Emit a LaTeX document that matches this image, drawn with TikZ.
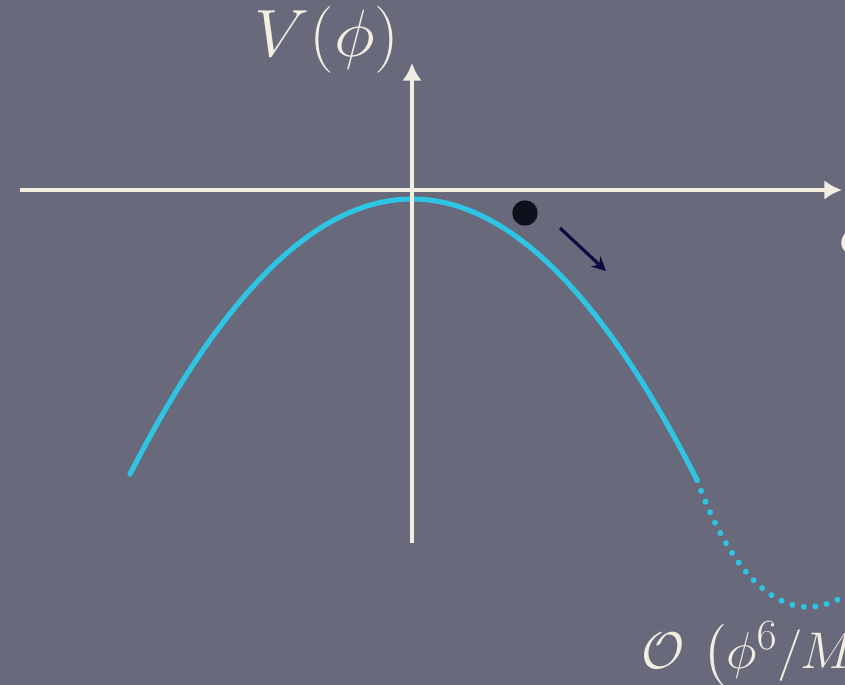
\documentclass[tikz,border=0pt]{standalone}
\usepackage{amsmath}
\usepackage{tikz}
\usetikzlibrary{arrows.meta,positioning,calc}
\definecolor{board}{RGB}{104,106,124}
\definecolor{chalk}{RGB}{242,238,226}
\definecolor{curvecyan}{RGB}{46,196,228}
\definecolor{ballnavy}{RGB}{14,16,28}

\begin{document}
\begin{tikzpicture}[
    x=0.02cm, y=-0.02cm,
    axis/.style={draw=chalk, line width=2.3pt, -{Latex[length=10pt,width=11pt]}},
    potential/.style={draw=curvecyan, line width=2.9pt, line cap=round},
    correction/.style={draw=curvecyan, line width=3.4pt, line cap=round, dash pattern=on 0pt off 6.6pt},
    label/.style={text=chalk, inner sep=0pt, font=\fontsize{24.88}{26}\selectfont, transform shape},
    biglabel/.style={label, xscale=1.6, yscale=1.53},
    ball/.style={circle, fill=ballnavy, minimum size=14.5pt, inner sep=0pt},
    roll/.style={draw=ballnavy!80!blue!90!black, line width=1.8pt, -{Stealth[length=8pt,width=8pt]}}
]
\useasboundingbox (0,0) rectangle (845,685);
\fill[board] (0,0) rectangle (845,685);
\clip (0,0) rectangle (845,685);

\coordinate (xstart) at (20,190);
\coordinate (xend) at (842,190);
\coordinate (ybottom) at (412,543);
\coordinate (ytop) at (412,63);

\draw[potential] plot[domain=130:697, samples=80] (\x, {199+281*((\x-412)/285)^2});
\coordinate (solidend) at (697,480);
\coordinate (vacuum) at (810,607);
\coordinate (exitright) at (852,592);
\draw[correction] (solidend) .. controls (728,565) and (768,608) .. (vacuum)
                  .. controls (826,606) and (838,600) .. (exitright);

\foreach \a/\b in {xstart/xend, ybottom/ytop}
  \draw[axis] (\a) -- (\b);

\node[biglabel] (vlabel) at (327,40) {$V(\phi)$};
\node[biglabel, anchor=west] (philabel) at (838,238) {$\phi$};
\node[label, xscale=1.2, yscale=1.18, anchor=base west] (oplabel) at (641,668) {$\mathcal{O}\,\left(\phi^6/M^2\right)$};

\node[ball] (ball) at (525,213) {};
\coordinate (rolltail) at (560,228);
\coordinate (rollhead) at (606,271);
\draw[roll] (rolltail) -- (rollhead);
\end{tikzpicture}
\end{document}
